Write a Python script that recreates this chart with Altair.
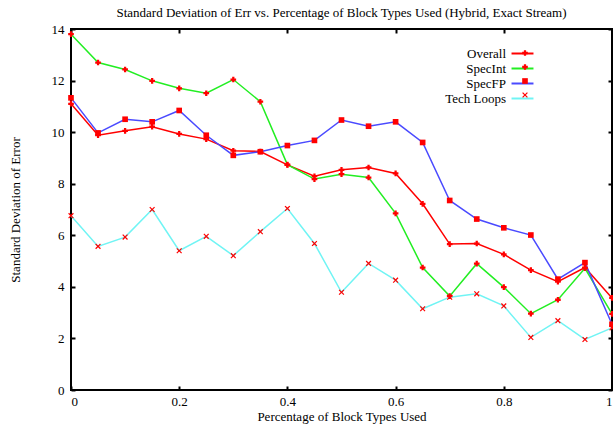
import altair as alt
import pandas as pd

FONT = "Liberation Serif"

x_vals = [0.0, 0.05, 0.10, 0.15, 0.20, 0.25, 0.30, 0.35, 0.40, 0.45, 0.50,
          0.55, 0.60, 0.65, 0.70, 0.75, 0.80, 0.85, 0.90, 0.95, 1.0]
series_names = ["Overall", "SpecInt", "SpecFP", "Tech Loops"]
overall = [11.10, 9.88, 10.05, 10.21, 9.93, 9.73, 9.28, 9.25, 8.73, 8.29, 8.54,
           8.63, 8.40, 7.22, 5.66, 5.68, 5.26, 4.65, 4.20, 4.75, 3.57]
specint = [13.80, 12.70, 12.43, 11.99, 11.70, 11.51, 12.04, 11.18, 8.74, 8.18, 8.37,
           8.24, 6.85, 4.75, 3.64, 4.90, 3.99, 2.96, 3.50, 4.72, 2.95]
specfp = [11.33, 9.97, 10.50, 10.40, 10.84, 9.88, 9.10, 9.24, 9.48, 9.68, 10.47,
          10.23, 10.40, 9.60, 7.35, 6.63, 6.29, 6.01, 4.30, 4.94, 2.55]
techloops = [6.76, 5.57, 5.93, 7.00, 5.40, 5.96, 5.21, 6.14, 7.04, 5.68, 3.79,
             4.91, 4.26, 3.15, 3.60, 3.73, 3.26, 2.04, 2.69, 1.96, 2.41]
x_ticks = [0, 0.2, 0.4, 0.6, 0.8, 1.0]
y_ticks = [0, 2, 4, 6, 8, 10, 12, 14]

line_colors = ["#ff0000", "#22ee22", "#4a4aff", "#70f4f4"]
x_shape = "M-1,-0.7L-0.7,-1L0,-0.3L0.7,-1L1,-0.7L0.3,0L1,0.7L0.7,1L0,0.3L-0.7,1L-1,0.7L-0.3,0Z"
marker_shapes = ["cross", "cross", "square", x_shape]
marker_keys = [n + " marker" for n in series_names]
legend_line = "M-1.65,0L1.65,0"

rows = []
for name, key, vals in zip(series_names, marker_keys, [overall, specint, specfp, techloops]):
    for xv, yv in zip(x_vals, vals):
        rows.append({"x": xv, "v": yv, "series": name, "marker": key})
df = pd.DataFrame(rows)

xscale = alt.Scale(domain=[0, 1], nice=False, zero=False)
yscale = alt.Scale(domain=[0, 14], nice=False, zero=False)

INWARD = {"expr": "-4"}
ROWPAD = {"expr": "-2"}

axis_common = dict(grid=False, domain=False, ticks=True, tickSize=4, tickWidth=2,
                   tickColor="black", offset=INWARD, labelFont=FONT, labelFontSize=13,
                   labelColor="black", titleFont=FONT, titleFontSize=13,
                   titleFontWeight="normal", titleColor="black")

lines = alt.Chart(df).mark_line(strokeWidth=1.5).encode(
    x=alt.X("x:Q", scale=xscale,
            axis=alt.Axis(orient="bottom", values=x_ticks, format="~g",
                          title="Percentage of Block Types Used",
                          labelPadding=5, titlePadding=2, **axis_common)),
    y=alt.Y("v:Q", scale=yscale,
            axis=alt.Axis(orient="left", values=y_ticks, format="d",
                          title="Standard Deviation of Error",
                          labelPadding=7, titlePadding=29, **axis_common)),
    color=alt.Color("series:N",
                    scale=alt.Scale(domain=series_names, range=line_colors),
                    sort=series_names,
                    legend=alt.Legend(title=None, orient="none", legendX=443.5, legendY=16.5,
                                      symbolType=legend_line, symbolSize=177,
                                      symbolStrokeWidth=2, labelFont=FONT,
                                      labelFontSize=13, labelColor="black",
                                      labelAlign="right", labelOffset={"expr": "-24.5"},
                                      rowPadding=ROWPAD, padding=0)),
)

points = alt.Chart(df).mark_point(filled=True, color="#ff0000", opacity=1, size=32).encode(
    x=alt.X("x:Q", scale=xscale),
    y=alt.Y("v:Q", scale=yscale),
    shape=alt.Shape("marker:N",
                    scale=alt.Scale(domain=marker_keys, range=marker_shapes),
                    sort=marker_keys,
                    legend=alt.Legend(title=None, orient="none", legendX=447.5, legendY=17.5,
                                      symbolSize=32, symbolFillColor="#ff0000",
                                      symbolStrokeColor="#ff0000", symbolOpacity=1,
                                      symbolStrokeWidth=0.5, labelFont=FONT,
                                      labelFontSize=13, labelColor="rgba(0,0,0,0)",
                                      labelExpr="' '",
                                      rowPadding=ROWPAD, padding=0)),
)

frame = alt.Chart(df).mark_point(opacity=0).encode(
    x=alt.X("x:Q", scale=xscale,
            axis=alt.Axis(orient="top", values=x_ticks, labels=False, title=None,
                          grid=False, domain=False, tickSize=4, tickWidth=2,
                          tickColor="black", offset=INWARD)),
    y=alt.Y("v:Q", scale=yscale,
            axis=alt.Axis(orient="right", values=y_ticks, labels=False, title=None,
                          grid=False, domain=False, tickSize=4, tickWidth=2,
                          tickColor="black", offset=INWARD)),
)

main = alt.layer(lines, points)

chart = alt.layer(main, frame).resolve_scale(
    x="independent", y="independent"
).properties(
    width=541, height=361,
    title=alt.TitleParams(
        "Standard Deviation of Err vs. Percentage of Block Types Used (Hybrid, Exact Stream)",
        font=FONT, fontSize=13, fontWeight="normal", color="black",
        anchor="middle", offset=3),
    autosize=alt.AutoSizeParams(type="none"),
    padding={"left": 71, "top": 29, "right": 1, "bottom": 35},
    background="white",
).configure_view(stroke="black", strokeWidth=2)

chart.save("out.html", embed_options={"renderer": "svg", "actions": False})
